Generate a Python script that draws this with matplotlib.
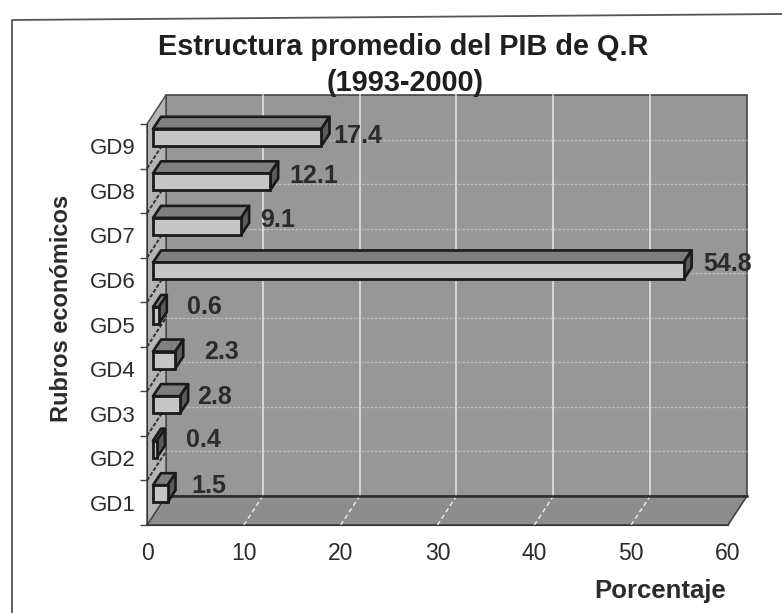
import matplotlib
matplotlib.use("Agg")
import matplotlib.pyplot as plt
from matplotlib.lines import Line2D
from matplotlib.patches import Polygon

categories = ["GD1", "GD2", "GD3", "GD4", "GD5", "GD6", "GD7", "GD8", "GD9"]
values = [1.5, 0.4, 2.8, 2.3, 0.6, 54.8, 9.1, 12.1, 17.4]
x_ticks = [0, 10, 20, 30, 40, 50, 60]

# label placement, pixels from the back corner of each bar
label_gap = [16, 21, 9, 21, 20, 12, 11, 11, 4]
label_rise = [8, 9, 8, 8, 9, 7, 6, 6, 1]

WALL = "#979797"
FLOOR = "#8d8d8d"
EDGE = "#1a1a1a"
TEXT_C = "#2b2b2b"
FONT = "Liberation Sans"

W, H = 782, 613
LEFT, RIGHT, TOP, BOTTOM = 147, 728, 124, 525
PX_X = 60 / (RIGHT - LEFT)
PX_Y = 9 / (BOTTOM - TOP)

# 3D look: back wall sits up and right of the front plane
WALL_DX, WALL_DY = 19 * PX_X, 29 * PX_Y
BAR_X0, BAR_Y0 = 6 * PX_X, 9 * PX_Y
BAR_DX, BAR_DY = 8 * PX_X, 12 * PX_Y
BAR_H = 17 * PX_Y

plt.rcParams["font.family"] = FONT
fig = plt.figure(figsize=(W / 100, H / 100), dpi=100)
ax = fig.add_axes([LEFT / W, 1 - BOTTOM / H, (RIGHT - LEFT) / W, (BOTTOM - TOP) / H])
ax.set_xlim(0, 60)
ax.set_ylim(0, 9)
ax.patch.set_visible(False)

# walls and floor
ax.add_patch(Polygon([(WALL_DX, WALL_DY), (60 + WALL_DX, WALL_DY), (60 + WALL_DX, 9 + WALL_DY), (WALL_DX, 9 + WALL_DY)],
                     facecolor=WALL, edgecolor="#444444", lw=1.2, clip_on=False, zorder=1))
ax.add_patch(Polygon([(0, 0), (60, 0), (60 + WALL_DX, WALL_DY), (WALL_DX, WALL_DY)],
                     facecolor=FLOOR, edgecolor="#444444", lw=1.2, clip_on=False, zorder=1))
ax.add_patch(Polygon([(0, 0), (WALL_DX, WALL_DY), (WALL_DX, 9 + WALL_DY), (0, 9)],
                     facecolor="#b4b4b4", edgecolor="#444444", lw=1.0, clip_on=False, zorder=1))
ax.plot([WALL_DX, 60 + WALL_DX], [WALL_DY, WALL_DY], color="#2e2e2e", lw=1.8, clip_on=False, zorder=3)

# gridlines
for t in x_ticks[1:-1]:
    ax.plot([t + WALL_DX, t + WALL_DX], [WALL_DY, 9 + WALL_DY], color="#f2f2f2", lw=1.3, alpha=0.75, clip_on=False, zorder=2)
    ax.plot([t, t + WALL_DX], [0, WALL_DY], color="#e8e8e8", lw=1.1, ls=(0, (3, 2)), clip_on=False, zorder=2)
for i in range(1, 9):
    ax.plot([WALL_DX, 60 + WALL_DX], [i + WALL_DY, i + WALL_DY], color="#e6e6e6", lw=1.0, ls=(0, (2, 1)), alpha=0.5,
            clip_on=False, zorder=2)
    ax.plot([0, WALL_DX], [i, i + WALL_DY], color="#333333", lw=1.4, ls=(0, (2, 1)), clip_on=False, zorder=2)

# bars, back ones first
for i in range(8, -1, -1):
    v = values[i]
    y0 = i + 0.5 + BAR_Y0 - BAR_H / 2
    x1 = BAR_X0 + v
    ax.add_patch(Polygon([(BAR_X0, y0 + BAR_H), (x1, y0 + BAR_H), (x1 + BAR_DX, y0 + BAR_H + BAR_DY), (BAR_X0 + BAR_DX, y0 + BAR_H + BAR_DY)],
                         facecolor="#7f7f7f", edgecolor=EDGE, lw=1.9, joinstyle="round", clip_on=False, zorder=4))
    ax.add_patch(Polygon([(x1, y0), (x1 + BAR_DX, y0 + BAR_DY), (x1 + BAR_DX, y0 + BAR_H + BAR_DY), (x1, y0 + BAR_H)],
                         facecolor="#5c5c5c", edgecolor=EDGE, lw=1.9, joinstyle="round", clip_on=False, zorder=4))
    ax.barh(i + 0.5 + BAR_Y0, v, height=BAR_H, left=BAR_X0, color="#c6c6c6", edgecolor=EDGE, lw=2.0,
            clip_on=False, zorder=5)
    ax.annotate(f"{v}", (x1 + BAR_DX, i + 0.5 + BAR_Y0), xytext=(label_gap[i] * 0.72, label_rise[i] * 0.72),
                textcoords="offset points", ha="left", va="center", fontsize=18, fontweight="bold",
                color=TEXT_C, zorder=6, annotation_clip=False)

# axes: boundary ticks on y, names between them
ax.set_yticks(range(10))
ax.set_yticklabels([])
ax.set_yticks([i + 0.5 for i in range(9)], minor=True)
ax.set_yticklabels(categories, minor=True, fontsize=16, color=TEXT_C)
ax.tick_params(axis="y", which="major", length=5, width=1, color="#444444", left=True)
ax.tick_params(axis="y", which="minor", length=0, pad=8)
ax.set_xticks(x_ticks)
ax.set_xticklabels([str(t) for t in x_ticks], fontsize=16.5, color=TEXT_C)
ax.tick_params(axis="x", length=0, pad=12)
for side in ["top", "right"]:
    ax.spines[side].set_visible(False)
ax.spines["left"].set_color("#333333")
ax.spines["bottom"].set_color("#333333")
for s in ax.spines.values():
    s.set_zorder(3)

fig.text(403 / W, 1 - 47 / H, "Estructura promedio del PIB de Q.R", ha="center", va="center",
         fontsize=20.8, fontweight="bold", color="#1f1f1f")
fig.text(405 / W, 1 - 83 / H, "(1993-2000)", ha="center", va="center",
         fontsize=20.8, fontweight="bold", color="#1f1f1f")
fig.text(62 / W, 1 - 308 / H, "Rubros económicos", rotation=90, ha="center", va="center",
         fontsize=17, fontweight="bold", color=TEXT_C)
fig.text(660 / W, 1 - 591 / H, "Porcentaje", ha="center", va="center",
         fontsize=18.5, fontweight="bold", color=TEXT_C)

# outer chart frame, the scan is slightly tilted and cut off right and bottom
fig.add_artist(Line2D([12 / W, 12 / W, 1], [0, 1 - 20 / H, 1 - 14 / H], color="#555555", lw=1.3))

fig.savefig("out.png", dpi=100, facecolor="white")
